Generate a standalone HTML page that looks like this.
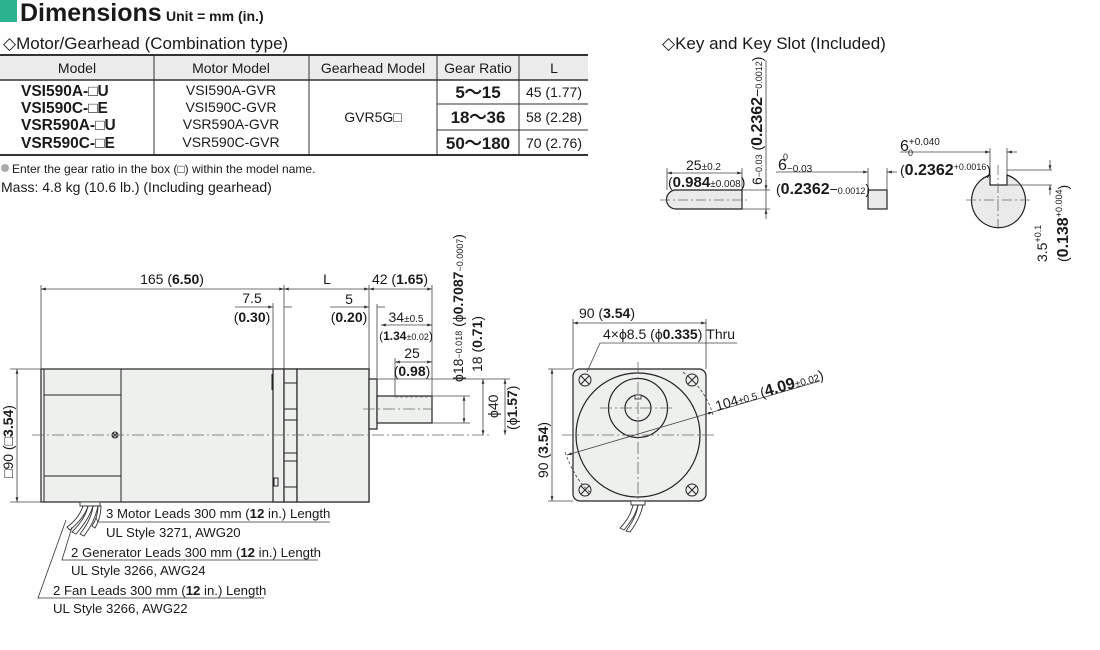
<!DOCTYPE html>
<html><head><meta charset="utf-8"><style>
html,body{margin:0;padding:0;background:#fff;width:1100px;height:650px;overflow:hidden}
svg{display:block}
text{font-family:"Liberation Sans Narrow","Liberation Sans",sans-serif;fill:#1a1a1a}
.w{font-family:"Liberation Sans",sans-serif}
.b{font-weight:bold}
</style></head><body>
<svg width="1100" height="650" viewBox="0 0 1100 650" xmlns="http://www.w3.org/2000/svg">
<defs>
<marker id="a" viewBox="0 0 10 10" refX="10" refY="5" markerWidth="6" markerHeight="6" orient="auto-start-reverse"><path d="M0,2 L10,5 L0,8z" fill="#333"/></marker>
</defs>
<rect x="0" y="0" width="17" height="22" fill="#2bb38f"/>
<text x="20" y="21" class="w b" font-size="25">Dimensions</text>
<text x="166" y="21" class="w b" font-size="14">Unit = mm (in.)</text>
<text x="3" y="49" class="w" font-size="17">◇Motor/Gearhead (Combination type)</text>
<text x="662" y="49" class="w" font-size="17">◇Key and Key Slot (Included)</text>
<g stroke="#333" fill="none">
<line x1="0" y1="55" x2="588" y2="55" stroke-width="2"/>
<rect x="0" y="56" width="588" height="24" fill="#ececec" stroke="none"/>
<line x1="0" y1="80" x2="588" y2="80" stroke-width="1.5"/>
<line x1="0" y1="155" x2="588" y2="155" stroke-width="2"/>
<line x1="154" y1="55" x2="154" y2="155"/>
<line x1="309" y1="55" x2="309" y2="155"/>
<line x1="437" y1="55" x2="437" y2="155"/>
<line x1="519" y1="55" x2="519" y2="155"/>
<line x1="437" y1="104" x2="588" y2="104"/>
<line x1="437" y1="130" x2="588" y2="130"/>
</g>
<g font-size="14" text-anchor="middle">
<text x="77" y="73">Model</text><text x="231" y="73">Motor Model</text><text x="373" y="73">Gearhead Model</text><text x="478" y="73">Gear Ratio</text><text x="554" y="73">L</text>
<text x="231" y="95">VSI590A-GVR</text><text x="231" y="112">VSI590C-GVR</text><text x="231" y="129">VSR590A-GVR</text><text x="231" y="147">VSR590C-GVR</text>
<text x="373" y="122">GVR5G□</text>
<text x="554" y="97">45 (1.77)</text><text x="554" y="122">58 (2.28)</text><text x="554" y="148">70 (2.76)</text>
</g>
<g font-size="15.5" class="w b">
<text x="21" y="96">VSI590A-□U</text><text x="21" y="113">VSI590C-□E</text><text x="21" y="130">VSR590A-□U</text><text x="21" y="148">VSR590C-□E</text>
<text x="478" y="98" text-anchor="middle" font-size="17">5～15</text><text x="478" y="123" text-anchor="middle" font-size="17">18～36</text><text x="478" y="149" text-anchor="middle" font-size="17">50～180</text>
</g>
<circle cx="5" cy="168" r="4" fill="#aaa"/>
<text x="12" y="173" font-size="12">Enter the gear ratio in the box (□) within the model name.</text>
<text x="1" y="192" class="w" font-size="14">Mass: 4.8 kg (10.6 lb.) (Including gearhead)</text>

<g stroke="#222" stroke-width="1.2" fill="#eef0ee">
<rect x="41" y="369" width="328" height="133"/>
<rect x="273" y="369" width="11" height="133"/>
<rect x="284" y="369" width="13" height="133"/>
<rect x="297" y="369" width="72" height="133"/>
<rect x="369" y="379" width="8" height="50"/>
<rect x="377" y="396" width="55" height="27"/>
</g>
<g stroke="#222" stroke-width="1" fill="none">
<line x1="121" y1="369" x2="121" y2="502"/>
<line x1="44" y1="369" x2="44" y2="502"/>
<line x1="44" y1="395" x2="121" y2="395"/><line x1="44" y1="476" x2="121" y2="476"/>
<line x1="272" y1="374" x2="272" y2="390"/>
<rect x="274" y="478" width="4" height="8"/>
<line x1="284" y1="383" x2="297" y2="383"/><line x1="284" y1="409" x2="297" y2="409"/><line x1="284" y1="420" x2="297" y2="420"/>
<line x1="284" y1="453" x2="297" y2="453"/><line x1="284" y1="461" x2="297" y2="461"/><line x1="284" y1="487" x2="297" y2="487"/>
<circle cx="115" cy="435" r="3"/><path d="M113,433 l4,4 M117,433 l-4,4"/>
</g>
<g stroke="#666" stroke-width="0.8" fill="none" stroke-dasharray="12,3,2,3">
<line x1="32" y1="435" x2="490" y2="435"/>
<line x1="363" y1="409" x2="432" y2="409"/>
</g>
<line x1="395" y1="397" x2="432" y2="397" stroke="#999" stroke-dasharray="3,2"/>
<g stroke="#444" stroke-width="0.8" fill="none">
<line x1="41" y1="285" x2="41" y2="369"/><line x1="284" y1="285" x2="284" y2="369"/><line x1="369" y1="285" x2="369" y2="369"/><line x1="432" y1="285" x2="432" y2="396"/>
<line x1="41" y1="289" x2="284" y2="289" marker-start="url(#a)" marker-end="url(#a)"/>
<line x1="284" y1="289" x2="369" y2="289" marker-start="url(#a)" marker-end="url(#a)"/>
<line x1="369" y1="289" x2="432" y2="289" marker-start="url(#a)" marker-end="url(#a)"/>
<line x1="273" y1="303" x2="273" y2="369"/>
<line x1="235" y1="307" x2="273" y2="307" marker-end="url(#a)"/><line x1="284" y1="307" x2="292" y2="307"/>
<line x1="330" y1="307" x2="369" y2="307" marker-end="url(#a)"/><line x1="377" y1="307" x2="385" y2="307"/>
<line x1="377" y1="304" x2="377" y2="378"/>
<line x1="381" y1="325" x2="432" y2="325" marker-start="url(#a)" marker-end="url(#a)"/>
<line x1="395" y1="358" x2="395" y2="396"/>
<line x1="395" y1="362" x2="432" y2="362" marker-start="url(#a)" marker-end="url(#a)"/>
<line x1="432" y1="396" x2="470" y2="396"/><line x1="432" y1="423" x2="470" y2="423"/>
<line x1="464" y1="396" x2="464" y2="423" marker-start="url(#a)" marker-end="url(#a)"/>
<line x1="377" y1="379" x2="510" y2="379"/>
<line x1="483" y1="379" x2="483" y2="435" marker-start="url(#a)" marker-end="url(#a)"/>
<line x1="505" y1="379" x2="505" y2="435" marker-start="url(#a)" marker-end="url(#a)"/>
<line x1="10" y1="369" x2="41" y2="369"/><line x1="10" y1="502" x2="41" y2="502"/>
<line x1="17" y1="369" x2="17" y2="502" marker-start="url(#a)" marker-end="url(#a)"/>
</g>
<g font-size="14" text-anchor="middle">
<text x="172" y="284">165 (<tspan class="b">6.50</tspan>)</text>
<text x="327" y="284">L</text>
<text x="400" y="284">42 (<tspan class="b">1.65</tspan>)</text>
<text x="252" y="303">7.5</text><text x="252" y="322">(<tspan class="b">0.30</tspan>)</text>
<text x="349" y="304">5</text><text x="349" y="322">(<tspan class="b">0.20</tspan>)</text>
<text x="406" y="322">34<tspan font-size="10">±0.5</tspan></text>
<text x="406" y="340" font-size="12">(<tspan class="b">1.34</tspan><tspan font-size="9">±0.02</tspan>)</text>
<text x="412" y="358">25</text><text x="412" y="376">(<tspan class="b">0.98</tspan>)</text>
<text x="607" y="318">90 (<tspan class="b">3.54</tspan>)</text>
</g>
<g font-size="14">
<text transform="translate(463,382) rotate(-90)">ϕ18<tspan font-size="9" dy="-1">−0.018</tspan><tspan dy="1"> (ϕ</tspan><tspan class="b">0.7087</tspan><tspan font-size="9">−0.0007</tspan>)</text>
<text transform="translate(482,372) rotate(-90)">18 (<tspan class="b">0.71</tspan>)</text>
<text transform="translate(498,418) rotate(-90)">ϕ40</text>
<text transform="translate(517,430) rotate(-90)">(ϕ<tspan class="b">1.57</tspan>)</text>
<text transform="translate(13,478) rotate(-90)">□90 (□<tspan class="b">3.54</tspan>)</text>
<text transform="translate(548,478) rotate(-90)">90 (<tspan class="b">3.54</tspan>)</text>
</g>
<g stroke="#333" stroke-width="0.9" fill="#fff">
<rect x="80" y="502" width="20" height="4"/>
<path d="M83,506 C80,515 74,522 67,527 L70,530 C77,524 85,516 88,506z"/>
<path d="M88,506 C86,516 80,524 72,532 L76,534 C83,526 90,516 93,506z"/>
<path d="M93,506 C92,516 87,525 80,534 L84,536 C91,527 96,516 98,506z"/>
<path d="M98,506 C98,514 96,520 92,526 L95,528 C99,521 101,514 101,506z"/>
</g>
<g stroke="#333" stroke-width="0.8" fill="none">
<polyline points="96,518 98,522 330,522"/>
<polyline points="72,527 62,560 318,560"/>
<polyline points="66,520 38,598 264,598"/>
</g>
<g font-size="13.2">
<text x="106" y="518">3 Motor Leads 300 mm (<tspan class="b">12</tspan> in.) Length</text>
<text x="106" y="537">UL Style 3271, AWG20</text>
<text x="71" y="557">2 Generator Leads 300 mm (<tspan class="b">12</tspan> in.) Length</text>
<text x="71" y="575">UL Style 3266, AWG24</text>
<text x="53" y="595">2 Fan Leads 300 mm (<tspan class="b">12</tspan> in.) Length</text>
<text x="53" y="613">UL Style 3266, AWG22</text>
</g>

<g stroke="#222" stroke-width="1.2">
<rect x="573" y="369" width="133" height="132" rx="7" fill="#eef0ee"/>
<circle cx="638" cy="435" r="62" fill="#eef0ee"/>
<circle cx="638" cy="408" r="29.5" fill="#eef0ee"/>
<circle cx="638" cy="408" r="13" fill="#eef0ee"/>
<rect x="635" y="395" width="6" height="4" fill="#eef0ee" stroke-width="0.8"/>
</g>
<g stroke="#222" stroke-width="1" fill="none">
<circle cx="585" cy="380" r="6"/><path d="M581,376 l8,8 M589,376 l-8,8"/>
<circle cx="692" cy="380" r="6"/><path d="M688,376 l8,8 M696,376 l-8,8"/>
<circle cx="585" cy="490" r="6"/><path d="M581,486 l8,8 M589,486 l-8,8"/>
<circle cx="692" cy="490" r="6"/><path d="M688,486 l8,8 M696,486 l-8,8"/>
</g>
<g stroke="#666" stroke-width="0.8" stroke-dasharray="12,3,2,3">
<line x1="638" y1="362" x2="638" y2="505"/><line x1="562" y1="435" x2="715" y2="435"/>
<line x1="600" y1="408" x2="675" y2="408"/>
</g>
<g stroke="#444" stroke-width="0.8" fill="none">
<line x1="573" y1="319" x2="573" y2="369"/><line x1="706" y1="319" x2="706" y2="369"/>
<line x1="573" y1="323" x2="706" y2="323" marker-start="url(#a)" marker-end="url(#a)"/>
<polyline points="587,372 600,343 737,343"/>
<line x1="548" y1="369" x2="573" y2="369"/><line x1="548" y1="501" x2="573" y2="501"/>
<line x1="552" y1="369" x2="552" y2="501" marker-start="url(#a)" marker-end="url(#a)"/>
<line x1="567" y1="455" x2="713" y2="412" marker-start="url(#a)" marker-end="url(#a)"/>
<line x1="713" y1="412" x2="820" y2="381"/>
<path d="M683,372 Q706,390 713,415" stroke-dasharray="3,2"/>
<path d="M565,452 Q575,480 590,492" stroke-dasharray="3,2"/>
</g>
<text x="603" y="339" font-size="14">4×ϕ8.5 (ϕ<tspan class="b">0.335</tspan>) Thru</text>
<text transform="translate(717,411) rotate(-16.5)" font-size="14">104<tspan font-size="10">±0.5</tspan> (<tspan class="b" font-size="16">4.09</tspan><tspan font-size="10">±0.02</tspan>)</text>
<g stroke="#333" stroke-width="0.9" fill="#fff">
<rect x="631" y="501" width="14" height="4"/>
<path d="M633,505 C631,514 626,522 620,528 L624,530 C630,523 636,514 638,505z"/>
<path d="M638,505 C637,514 632,523 626,531 L630,532 C636,524 641,514 643,505z"/>
</g>

<g stroke="#222" stroke-width="1.2" fill="#eaeaea">
<path d="M676,190 L742,190 L742,209 L676,209 A9.5,9.5 0 0 1 676,190z"/>
<rect x="868" y="190" width="19" height="19"/>
<path d="M990,175 L990,185 L1007,185 L1007,175 A27,27 0 1 1 990,175z"/>
</g>
<g stroke="#666" stroke-width="0.8" stroke-dasharray="10,3,2,3">
<line x1="660" y1="200" x2="748" y2="200"/>
<line x1="966" y1="200" x2="1030" y2="200"/><line x1="998" y1="165" x2="998" y2="230"/>
</g>
<g stroke="#444" stroke-width="0.8" fill="none">
<line x1="667" y1="168" x2="667" y2="190"/><line x1="742" y1="168" x2="742" y2="190"/>
<line x1="667" y1="173" x2="742" y2="173" marker-start="url(#a)" marker-end="url(#a)"/>
<line x1="742" y1="190" x2="770" y2="190"/><line x1="742" y1="209" x2="770" y2="209"/>
<line x1="766" y1="60" x2="766" y2="215"/>
<line x1="766" y1="180" x2="766" y2="190" marker-end="url(#a)"/>
<line x1="766" y1="219" x2="766" y2="209" marker-end="url(#a)"/>
<line x1="776" y1="172" x2="868" y2="172" marker-end="url(#a)"/><line x1="887" y1="172" x2="897" y2="172" marker-start="url(#a)"/>
<line x1="868" y1="168" x2="868" y2="190"/><line x1="887" y1="168" x2="887" y2="190"/>
<line x1="990" y1="148" x2="990" y2="175"/><line x1="1007" y1="148" x2="1007" y2="175"/>
<line x1="900" y1="152" x2="990" y2="152" marker-end="url(#a)"/><line x1="1007" y1="152" x2="1017" y2="152" marker-start="url(#a)"/>
<line x1="1007" y1="170" x2="1052" y2="170"/><line x1="1007" y1="185" x2="1052" y2="185"/>
<line x1="1050" y1="160" x2="1050" y2="170" marker-end="url(#a)"/>
<line x1="1050" y1="195" x2="1050" y2="185" marker-end="url(#a)"/>
</g>
<g font-size="14">
<text x="686" y="170">25<tspan font-size="10">±0.2</tspan></text>
<text x="668" y="187">(<tspan class="b" font-size="15">0.984</tspan><tspan font-size="10">±0.008</tspan>)</text>
<text x="778" y="170" font-size="16">6<tspan font-size="10" dy="2">−0.03</tspan></text>
<text x="783" y="160" font-size="9">0</text>
<text x="776" y="194">(<tspan class="b" font-size="16">0.2362</tspan>−<tspan font-size="9">0.0012</tspan>)</text>
<text x="900" y="151" font-size="16">6<tspan font-size="10" dy="-6">+0.040</tspan></text>
<text x="908" y="156" font-size="9">0</text>
<text x="900" y="175">(<tspan class="b" font-size="16">0.2362</tspan><tspan font-size="9" dy="-5">+0.0016</tspan><tspan dy="5">)</tspan></text>
<text transform="translate(762,185) rotate(-90)">6<tspan font-size="9">−0.03</tspan> (<tspan class="b" font-size="16">0.2362</tspan>−<tspan font-size="9">0.0012</tspan>)</text>
<text transform="translate(1047,262) rotate(-90)">3.5<tspan font-size="9" dy="-6">+0.1</tspan></text>
<text transform="translate(1068,262) rotate(-90)">(<tspan class="b" font-size="16">0.138</tspan><tspan font-size="9" dy="-6">+0.004</tspan><tspan dy="6">)</tspan></text>
</g>
</svg>
</body></html>
